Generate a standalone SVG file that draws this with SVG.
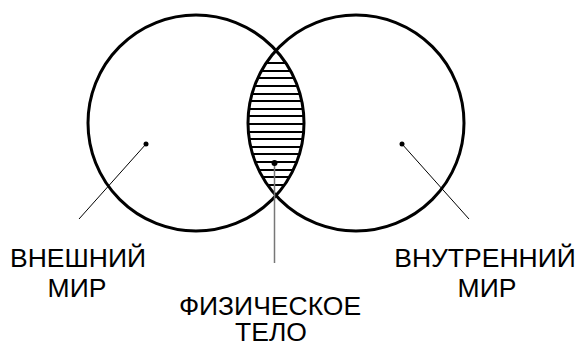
<svg xmlns="http://www.w3.org/2000/svg" width="582" height="344" viewBox="0 0 582 344">
<style>
.c{fill:none;stroke:#000;stroke-width:3}
.h{stroke:#000;stroke-width:2}
.t{font-family:"Liberation Sans",Arial,sans-serif;font-size:26.5px;fill:#000;text-anchor:middle}
.l{stroke:#000;stroke-width:1}
</style>
<defs>
<clipPath id="cl"><circle cx="196" cy="123" r="108"/></clipPath>
<clipPath id="cr"><circle cx="356" cy="123" r="108"/></clipPath>
</defs>
<g id="hatch" clip-path="url(#cl)"><g clip-path="url(#cr)">
<rect x="240" y="40" width="80" height="170" fill="#fff"/>
<line class="h" x1="240" x2="320" y1="63" y2="63"/>
<line class="h" x1="240" x2="320" y1="71" y2="71"/>
<line class="h" x1="240" x2="320" y1="78" y2="78"/>
<line class="h" x1="240" x2="320" y1="86" y2="86"/>
<line class="h" x1="240" x2="320" y1="94" y2="94"/>
<line class="h" x1="240" x2="320" y1="101" y2="101"/>
<line class="h" x1="240" x2="320" y1="109" y2="109"/>
<line class="h" x1="240" x2="320" y1="116" y2="116"/>
<line class="h" x1="240" x2="320" y1="124" y2="124"/>
<line class="h" x1="240" x2="320" y1="132" y2="132"/>
<line class="h" x1="240" x2="320" y1="139" y2="139"/>
<line class="h" x1="240" x2="320" y1="147" y2="147"/>
<line class="h" x1="240" x2="320" y1="154" y2="154"/>
<line class="h" x1="240" x2="320" y1="162" y2="162"/>
<line class="h" x1="240" x2="320" y1="170" y2="170"/>
<line class="h" x1="240" x2="320" y1="177" y2="177"/>
<line class="h" x1="240" x2="320" y1="185" y2="185"/>
</g></g>
<g id="left-circle"><circle class="c" cx="196" cy="123" r="108"/></g>
<g id="right-circle"><circle class="c" cx="356" cy="123" r="108"/></g>
<g id="connectors">
<line class="l" x1="146" y1="144" x2="79" y2="219"/>
<circle cx="146" cy="144" r="2.5"/>
<line class="l" x1="402" y1="144" x2="469" y2="219"/>
<circle cx="402" cy="144" r="2.5"/>
<line x1="274.5" y1="163" x2="274.5" y2="263" stroke="#777" stroke-width="1.5"/>
<circle cx="274.5" cy="163" r="3"/>
</g>
<g id="label-outer">
<text class="t" x="78" y="267">ВНЕШНИЙ</text>
<text class="t" x="77" y="297">МИР</text>
</g>
<g id="label-inner">
<text class="t" x="485" y="267">ВНУТРЕННИЙ</text>
<text class="t" x="487" y="297">МИР</text>
</g>
<g id="label-body">
<text class="t" x="270" y="315">ФИЗИЧЕСКОЕ</text>
<text class="t" x="271" y="341">ТЕЛО</text>
</g>
</svg>
